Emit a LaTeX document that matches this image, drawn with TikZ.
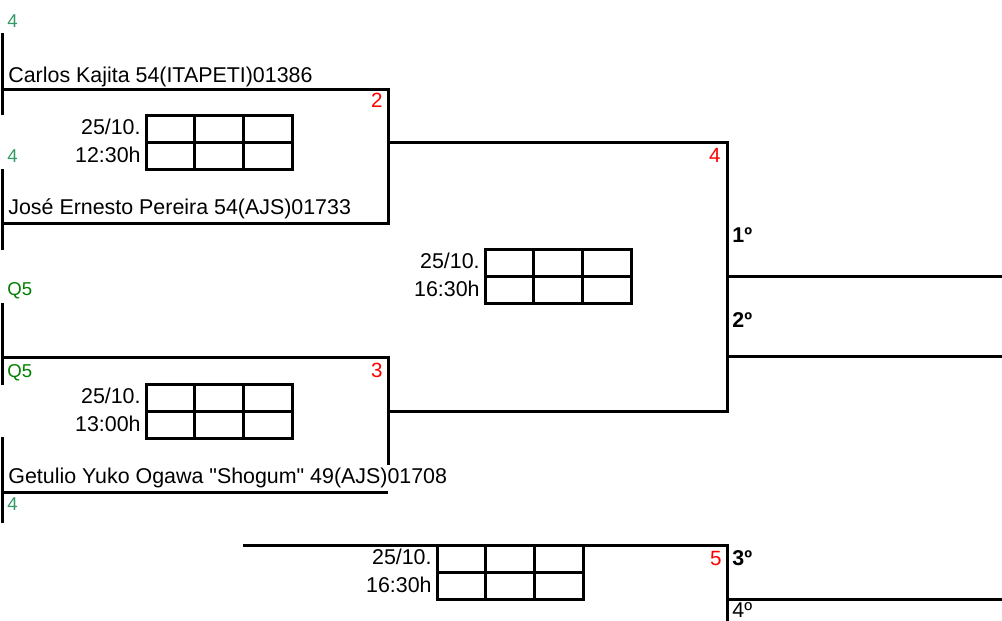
\documentclass[tikz,border=0pt]{standalone}
\usepackage{fontspec}
\setmainfont{Liberation Sans}
\usetikzlibrary{calc}

\definecolor{seedgreen}{RGB}{51,153,102}
\definecolor{qgreen}{RGB}{0,128,0}
\definecolor{matchred}{RGB}{255,0,0}

\tikzset{
    line/.style={line width=1.5pt},
    player/.style={anchor=base west, inner sep=0pt, font=\fontsize{10.7}{12}\selectfont},
    seed/.style={anchor=base west, inner sep=0pt, text=seedgreen, font=\fontsize{9.3}{11}\selectfont},
    qual/.style={seed, text=qgreen},
    matchno/.style={anchor=base east, inner sep=0pt, text=matchred, font=\fontsize{10.3}{12}\selectfont},
    datetxt/.style={anchor=base east, inner sep=0pt, font=\fontsize{10.7}{12}\selectfont},
    place/.style={anchor=base west, inner sep=0pt, font=\bfseries\fontsize{10.7}{12}\selectfont}
}

% score box: name, top left corner, date, time
\newcommand{\scorebox}[4]{%
  \coordinate (#1) at (#2);
  \draw[line] (#1) rectangle ++(146,54);
  \draw[line] ($(#1)+(0,27)$) -- ++(146,0);
  \foreach \col in {1,2}
    \draw[line] ($(#1)+(\col*48.67,0)$) -- ++(0,54);
  \node[datetxt] (#1-date) at ($(#1)+(-5,19)$) {#3};
  \node[datetxt] (#1-time) at ($(#1)+(-5,47)$) {#4};
}

\begin{document}
\begin{tikzpicture}[x=0.5pt, y=-0.5pt]
\useasboundingbox (0,0) rectangle (1002,621);

% Slots on the left
\foreach \name/\top/\len in {s1/33/82, s2/169/81, s3/303/82, s4/437/86}{
  \coordinate (\name) at (2,\top);
  \draw[line] (\name) -- ++(0,\len);
}

% Match 2
\coordinate (m2a) at (2,89);
\coordinate (m2b) at (2,223);
\coordinate (m2out) at (388,142);
\draw[line] (m2a) -| (m2b -| m2out) -- (m2b);
\node[seed] (seed1) at (7,27) {4};
\node[player] (pl1) at (8,82) {Carlos Kajita 54(ITAPETI)01386};
\node[matchno] (no2) at (383,107) {2};
\scorebox{sc2}{146,115}{25/10.}{12:30h}
\node[seed] (seed2) at (7,162) {4};
\node[player] (pl2) at (8,214) {José Ernesto Pereira 54(AJS)01733};

% Match 3
\coordinate (m3a) at (2,357);
\coordinate (m3b) at (2,492);
\coordinate (m3out) at (388,411);
\coordinate (m3end) at (388,465);
\draw[line] (m3a) -| (m3end);
\draw[line] (m3b) -- (m3b -| m3out);
\node[qual] (q1) at (7,295) {Q5};
\node[qual] (q2) at (7,377) {Q5};
\node[matchno] (no3) at (383,377) {3};
\scorebox{sc3}{146,384}{25/10.}{13:00h}
\node[player] (pl4) at (8,483) {Getulio Yuko Ogawa \textquotedbl Shogum\textquotedbl{} 49(AJS)01708};
\node[seed] (seed4) at (7,510) {4};

% Final
\coordinate (m4top) at (727,142);
\coordinate (m4bot) at (727,411);
\coordinate (first) at (727,276);
\coordinate (second) at (727,356);
\draw[line] (m2out) -- (m4top) -- (m4bot) -- (m3out);
\draw[line] (first) -- ++(275,0);
\draw[line] (second) -- ++(275,0);
\node[matchno] (no4) at (721,162) {4};
\scorebox{sc4}{485,249}{25/10.}{16:30h}
\node[place] (pos1) at (732,242) {1º};
\node[place] (pos2) at (732,327) {2º};

% Third place
\coordinate (m5a) at (243,545);
\coordinate (m5end) at (727,621);
\coordinate (third) at (727,599);
\draw[line] (m5a) -| (m5end);
\draw[line] (third) -- ++(275,0);
\node[matchno] (no5) at (722,565) {5};
\scorebox{sc5}{437,545}{25/10.}{16:30h}
\node[place] (pos3) at (732,565) {3º};
\node[player] (pos4) at (732,617) {4º};
\end{tikzpicture}
\end{document}
